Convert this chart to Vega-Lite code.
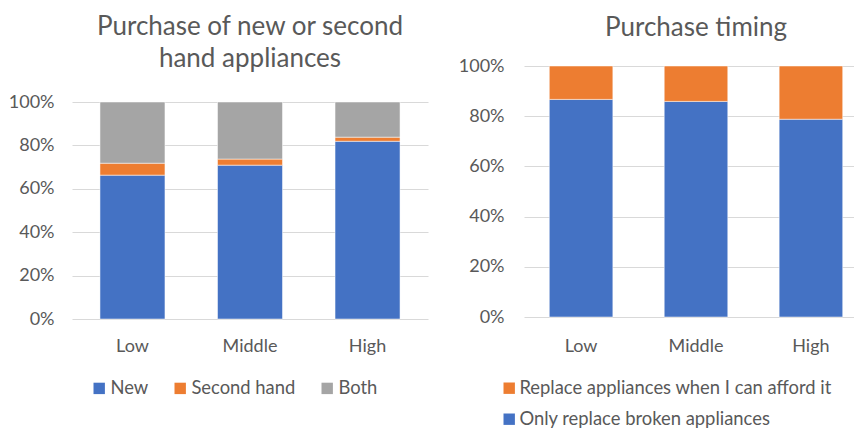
{
  "$schema": "https://vega.github.io/schema/vega-lite/v6.json",
  "padding": {"left": 8, "top": 14, "right": 0, "bottom": 0},
  "background": "white",
  "datasets": {
    "purchase": [
      {"income": "Low", "type": "New", "share": 0.663, "rank": 1},
      {"income": "Low", "type": "Second hand", "share": 0.055, "rank": 2},
      {"income": "Low", "type": "Both", "share": 0.282, "rank": 3},
      {"income": "Middle", "type": "New", "share": 0.709, "rank": 1},
      {"income": "Middle", "type": "Second hand", "share": 0.028, "rank": 2},
      {"income": "Middle", "type": "Both", "share": 0.263, "rank": 3},
      {"income": "High", "type": "New", "share": 0.819, "rank": 1},
      {"income": "High", "type": "Second hand", "share": 0.019, "rank": 2},
      {"income": "High", "type": "Both", "share": 0.162, "rank": 3}
    ],
    "timing": [
      {"income": "Low", "timing": "Only replace broken appliances", "share": 0.867, "rank": 1},
      {"income": "Low", "timing": "Replace appliances when I can afford it", "share": 0.133, "rank": 2},
      {"income": "Middle", "timing": "Only replace broken appliances", "share": 0.859, "rank": 1},
      {"income": "Middle", "timing": "Replace appliances when I can afford it", "share": 0.141, "rank": 2},
      {"income": "High", "timing": "Only replace broken appliances", "share": 0.788, "rank": 1},
      {"income": "High", "timing": "Replace appliances when I can afford it", "share": 0.212, "rank": 2}
    ]
  },
  "config": {
    "font": "Lato",
    "view": {"stroke": null},
    "title": {"font": "Lato", "fontSize": 26, "fontWeight": "normal", "color": "#595959", "lineHeight": 32},
    "axis": {"labelFont": "Lato", "labelFontSize": 18, "labelColor": "#595959", "gridColor": "#d9d9d9", "domain": false, "ticks": false, "title": null},
    "legend": {"labelFont": "Lato", "labelFontSize": 18.4, "labelColor": "#595959", "symbolType": "square", "symbolSize": 130, "symbolStrokeWidth": 0, "title": null, "labelOffset": 2}
  },
  "spacing": 30,
  "hconcat": [
    {
      "data": {"name": "purchase"},
      "title": {"text": ["Purchase of new or second", "hand appliances"], "offset": -6},
      "width": 356,
      "height": 253,
      "mark": {"type": "bar", "stroke": "white", "strokeWidth": 0.5},
      "encoding": {
        "x": {"field": "income", "type": "nominal", "sort": ["Low", "Middle", "High"], "scale": {"paddingInner": 0.447, "paddingOuter": 0.238}, "axis": {"labelAngle": 0, "labelPadding": 18, "grid": false}},
        "y": {"field": "share", "type": "quantitative", "stack": "zero", "scale": {"domain": [0, 1], "range": [253, 36]}, "axis": {"format": ".0%", "values": [0, 0.2, 0.4, 0.6, 0.8, 1], "labelPadding": 18}},
        "color": {"field": "type", "type": "nominal", "scale": {"domain": ["New", "Second hand", "Both"], "range": ["#4472c4", "#ed7d31", "#a5a5a5"]}, "legend": {"orient": "none", "direction": "horizontal", "legendX": 18, "legendY": 313, "columnPadding": 22}},
        "order": {"field": "rank", "type": "quantitative"}
      }
    },
    {
      "data": {"name": "timing"},
      "title": {"text": "Purchase timing", "offset": 16},
      "width": 344,
      "height": 251,
      "mark": {"type": "bar", "stroke": "white", "strokeWidth": 0.5},
      "encoding": {
        "x": {"field": "income", "type": "nominal", "sort": ["Low", "Middle", "High"], "scale": {"paddingInner": 0.447, "paddingOuter": 0.22}, "axis": {"labelAngle": 0, "labelPadding": 20, "grid": false}},
        "y": {"field": "share", "type": "quantitative", "stack": "zero", "scale": {"domain": [0, 1]}, "axis": {"format": ".0%", "values": [0, 0.2, 0.4, 0.6, 0.8, 1], "labelPadding": 20}},
        "color": {"field": "timing", "type": "nominal", "scale": {"domain": ["Replace appliances when I can afford it", "Only replace broken appliances"], "range": ["#ed7d31", "#4472c4"]}, "legend": {"orient": "none", "direction": "vertical", "legendX": -24, "legendY": 313, "rowPadding": 12, "labelLimit": 400, "labelOffset": 1}},
        "order": {"field": "rank", "type": "quantitative"}
      }
    }
  ],
  "resolve": {"scale": {"color": "independent", "x": "independent", "y": "independent"}, "legend": {"color": "independent"}}
}
